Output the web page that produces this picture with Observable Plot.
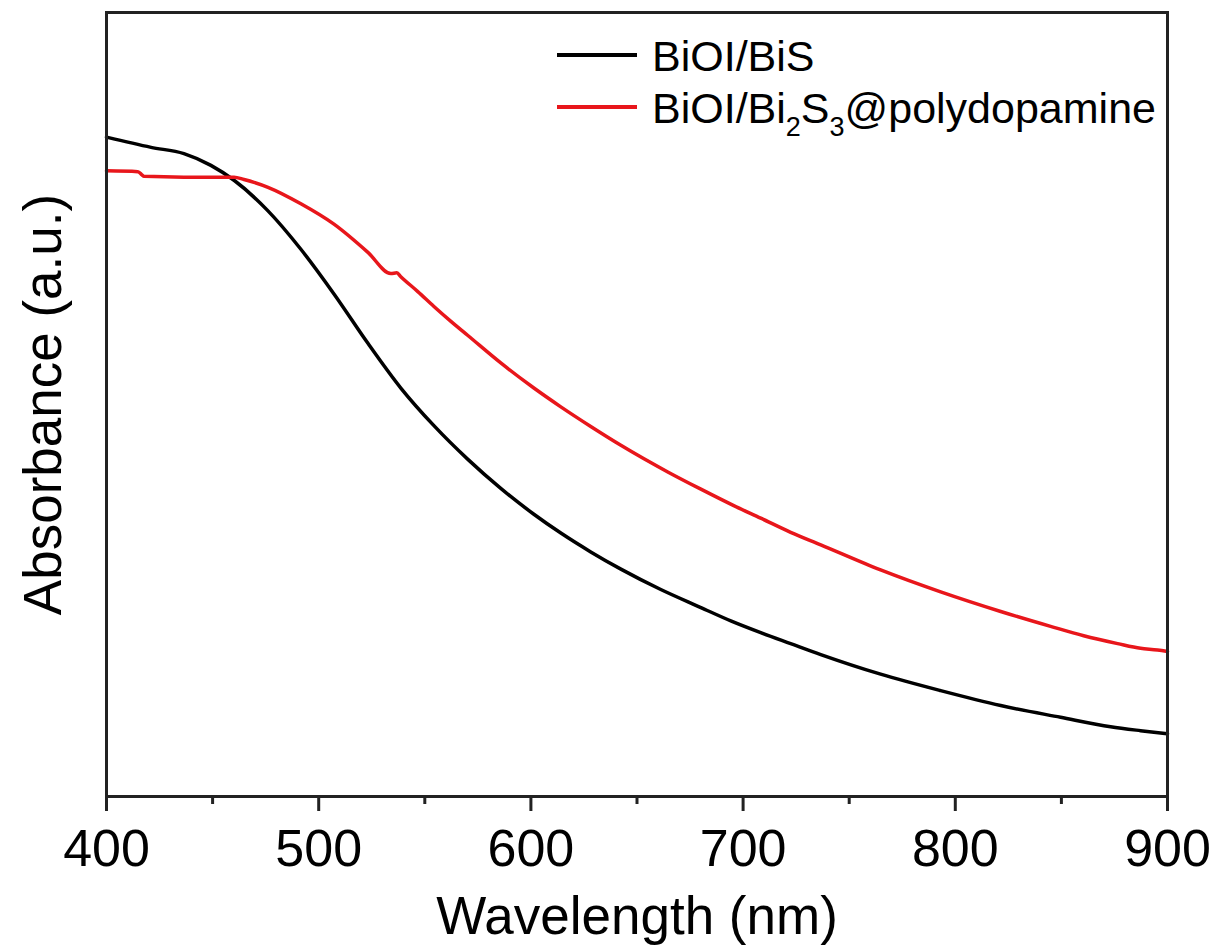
<!DOCTYPE html>
<html>
<head>
<meta charset="utf-8">
<script src="https://cdn.jsdelivr.net/npm/d3@7"></script>
<script src="https://cdn.jsdelivr.net/npm/@observablehq/plot@0.6"></script>
<style>
  html, body { margin: 0; padding: 0; background: #fff; }
  #chart svg { display: block; font-family: "Liberation Sans", Arial, sans-serif; }
</style>
</head>
<body>
<div id="chart"></div>
<script>
// Wavelength (nm) and absorbance (a.u.)
const blackWavelength = [400.0, 421.0, 436.5, 449.2, 460.1, 476.1, 491.6, 507.2, 523.2, 538.7, 554.3, 570.3, 585.8, 601.4, 614.1, 628.2, 642.4, 661.2, 680.1, 694.2, 708.3, 722.4, 736.6, 764.8, 793.1, 821.4, 849.6, 873.2, 887.3, 900.0];
const blackAbsorbance = [0.841, 0.828, 0.820, 0.805, 0.786, 0.747, 0.698, 0.641, 0.578, 0.521, 0.473, 0.430, 0.393, 0.360, 0.336, 0.312, 0.290, 0.264, 0.241, 0.224, 0.209, 0.195, 0.181, 0.156, 0.135, 0.116, 0.101, 0.089, 0.084, 0.080];

const redWavelength = [400.0, 414.8, 416.7, 417.7, 436.5, 460.1, 464.8, 476.1, 491.6, 507.2, 523.2, 534.0, 536.8, 538.7, 546.7, 554.3, 562.3, 570.3, 585.8, 601.4, 614.1, 628.2, 642.4, 664.5, 680.1, 695.6, 708.3, 722.4, 736.6, 764.8, 793.1, 821.4, 844.9, 860.5, 876.5, 887.3, 895.3, 900.0];
const redAbsorbance = [0.798, 0.797, 0.793, 0.791, 0.790, 0.790, 0.787, 0.777, 0.756, 0.730, 0.694, 0.667, 0.668, 0.663, 0.644, 0.625, 0.606, 0.588, 0.553, 0.521, 0.497, 0.472, 0.448, 0.414, 0.392, 0.371, 0.355, 0.337, 0.321, 0.289, 0.261, 0.236, 0.217, 0.205, 0.195, 0.189, 0.187, 0.185];

const majorTicks = [400, 500, 600, 700, 800, 900];
const minorTicks = [450, 550, 650, 750, 850];
const xTitle = "Wavelength (nm)";
const yTitle = "Absorbance (a.u.)";
const seriesColors = ["#000000", "#e8161b"];

const black = blackWavelength.map((w, i) => ({w, a: blackAbsorbance[i]}));
const red = redWavelength.map((w, i) => ({w, a: redAbsorbance[i]}));

const FONT = "Liberation Sans, Arial, sans-serif";

const chart = Plot.plot({
  width: 1222,
  height: 951,
  marginLeft: 106,
  marginRight: 55,
  marginTop: 12,
  marginBottom: 155,
  style: {fontFamily: FONT, color: "#000", background: "#fff"},
  x: {domain: [400, 900]},
  y: {domain: [0, 1]},
  marks: [
    Plot.axisX({ticks: majorTicks, tickSize: 15, tickPadding: 18, fontSize: 52, strokeWidth: 3, stroke: "#222", label: null, tickFormat: d => String(d)}),
    Plot.axisX({ticks: minorTicks, tickSize: 8, strokeWidth: 3, stroke: "#222", label: null, tickFormat: () => ""}),
    Plot.axisY({ticks: [], label: null}),
    Plot.line(black, {x: "w", y: "a", stroke: seriesColors[0], strokeWidth: 3.5, curve: "monotone-x"}),
    Plot.line(red, {x: "w", y: "a", stroke: seriesColors[1], strokeWidth: 3.5, curve: "monotone-x"}),
    Plot.frame({stroke: "#222", strokeWidth: 3}),
    Plot.text([xTitle], {frameAnchor: "bottom", dy: 137, lineAnchor: "bottom", fontSize: 53, fill: "#000"}),
    Plot.text([yTitle], {frameAnchor: "left", rotate: -90, dx: -46, textAnchor: "middle", lineAnchor: "bottom", fontSize: 53, fill: "#000"})
  ]
});

document.getElementById("chart").appendChild(chart);

// Legend (inside the plot frame, top right), with subscripts as tspans
const svg = d3.select(chart);
const legend = svg.append("g").attr("font-family", FONT).attr("fill", "#000").attr("text-anchor", "start");
const rows = [
  {color: seriesColors[0], y: 55, parts: [["BiOI/BiS", false]]},
  {color: seriesColors[1], y: 107, parts: [["BiOI/Bi", false], ["2", true], ["S", false], ["3", true], ["@polydopamine", false]]}
];
rows.forEach(r => {
  legend.append("line")
    .attr("x1", 557).attr("x2", 637)
    .attr("y1", r.y).attr("y2", r.y)
    .attr("stroke", r.color).attr("stroke-width", 4);
  const t = legend.append("text")
    .attr("x", 652).attr("y", r.y + 16)
    .attr("font-size", 43)
    .attr("text-anchor", "start");
  let sub = false;
  r.parts.forEach(([s, isSub]) => {
    const ts = t.append("tspan").text(s);
    if (isSub && !sub) { ts.attr("dy", 13).attr("font-size", 27); sub = true; }
    else if (isSub && sub) { ts.attr("font-size", 27); }
    else if (!isSub && sub) { ts.attr("dy", -13); sub = false; }
  });
});
</script>
</body>
</html>
